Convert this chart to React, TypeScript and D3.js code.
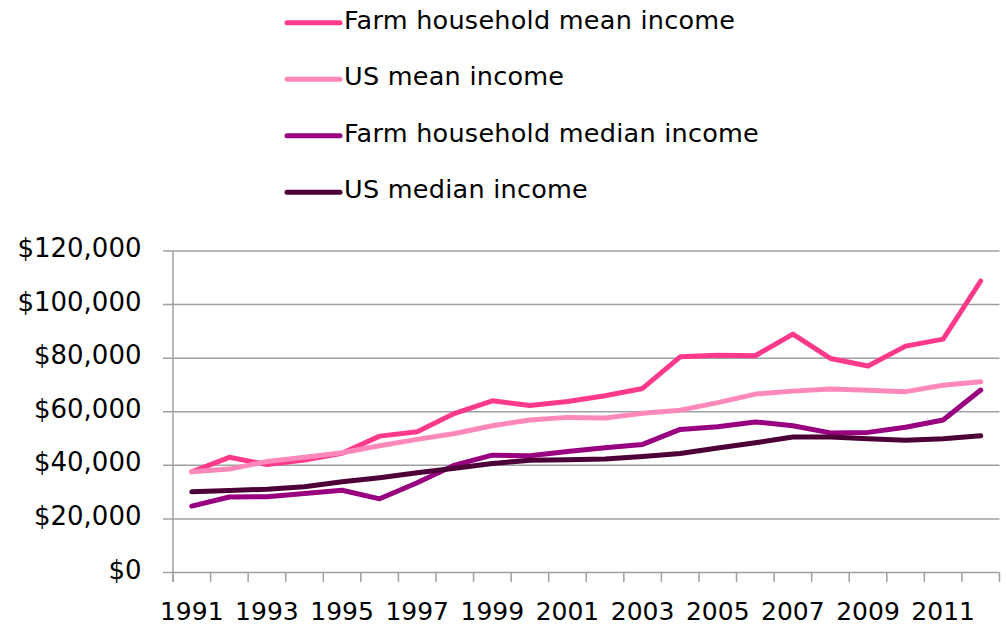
import React from "react";
import * as d3 from "d3";

const years = [1991, 1992, 1993, 1994, 1995, 1996, 1997, 1998, 1999, 2000, 2001, 2002, 2003, 2004, 2005, 2006, 2007, 2008, 2009, 2010, 2011, 2012];

const farmMean = [37600, 43000, 40300, 42000, 44500, 50900, 52500, 59400, 64100, 62300, 63800, 66000, 68700, 80500, 81100, 80900, 89000, 79900, 77100, 84500, 87100, 108800];
const usMean = [37600, 38600, 41400, 43000, 44700, 47300, 49700, 51900, 54800, 56900, 57900, 57700, 59400, 60600, 63400, 66600, 67700, 68500, 68000, 67500, 69900, 71200];
const farmMedian = [24800, 28200, 28300, 29500, 30700, 27500, 33500, 40100, 43800, 43600, 45200, 46600, 47800, 53400, 54400, 56200, 54800, 52100, 52300, 54200, 56900, 68100];
const usMedian = [30100, 30600, 31100, 32000, 33900, 35400, 37200, 38900, 40700, 41900, 42100, 42400, 43300, 44400, 46500, 48400, 50600, 50600, 49900, 49400, 49900, 51000];

const seriesNames = ["Farm household mean income", "US mean income", "Farm household median income", "US median income"];
const seriesColors = ["#ff3a8c", "#ff88bb", "#990080", "#4c0037"];
const seriesValues = [farmMean, usMean, farmMedian, usMedian];

const yTicks = [0, 20000, 40000, 60000, 80000, 100000, 120000];
const xLabelYears = [1991, 1993, 1995, 1997, 1999, 2001, 2003, 2005, 2007, 2009, 2011];

const FONT = "'DejaVu Sans', sans-serif";

export default function App() {
  const left = 173;
  const right = 999.5;
  const top = 251;
  const bottom = 572.5;

  const x = d3.scaleBand<number>().domain(years).range([left, right]).padding(0);
  const y = d3.scaleLinear().domain([0, 120000]).range([bottom, top]);
  const cx = (yr: number) => (x(yr) as number) + x.bandwidth() / 2;

  const line = d3
    .line<number>()
    .x((_, i) => cx(years[i]))
    .y((v) => y(v));

  const fmt = (v: number) => "$" + d3.format(",")(v);
  const grid = "#a0a0a0";

  return (
    <svg width={1006} height={626} style={{ position: "absolute", left: 0, top: 0, background: "#fff" }}>
      {/* legend */}
      {seriesNames.map((name, i) => {
        const ly = 22.7 + i * 56.5;
        return (
          <g key={name}>
            <line x1={287} x2={340} y1={ly} y2={ly} stroke={seriesColors[i]} strokeWidth={5} strokeLinecap="round" />
            <text x={344} y={ly + 5.8} fontFamily={FONT} fontSize={25.5} letterSpacing={0.25} fill="#000">
              {name}
            </text>
          </g>
        );
      })}

      {/* gridlines and y ticks */}
      {yTicks.map((t) => (
        <g key={t}>
          <line x1={163} x2={right} y1={y(t)} y2={y(t)} stroke={grid} strokeWidth={1.5} />
          <text x={141.5} y={y(t) + 6} textAnchor="end" fontFamily={FONT} fontSize={26} fill="#000">
            {fmt(t)}
          </text>
        </g>
      ))}

      {/* y axis */}
      <line x1={left} x2={left} y1={top} y2={bottom + 9.5} stroke={grid} strokeWidth={1.5} />

      {/* x ticks */}
      {years.concat([2013]).map((yr, i) => {
        const xx = left + i * x.bandwidth();
        return <line key={yr} x1={xx} x2={xx} y1={bottom} y2={bottom + 9.5} stroke={grid} strokeWidth={1.5} />;
      })}

      {/* x labels */}
      {xLabelYears.map((yr) => (
        <text key={yr} x={cx(yr)} y={620} textAnchor="middle" fontFamily={FONT} fontSize={25} fill="#000">
          {yr}
        </text>
      ))}

      {/* series */}
      {seriesValues.map((vals, i) => (
        <path
          key={seriesNames[i]}
          d={line(vals) as string}
          fill="none"
          stroke={seriesColors[i]}
          strokeWidth={5}
          strokeLinecap="round"
          strokeLinejoin="round"
        />
      ))}
    </svg>
  );
}
